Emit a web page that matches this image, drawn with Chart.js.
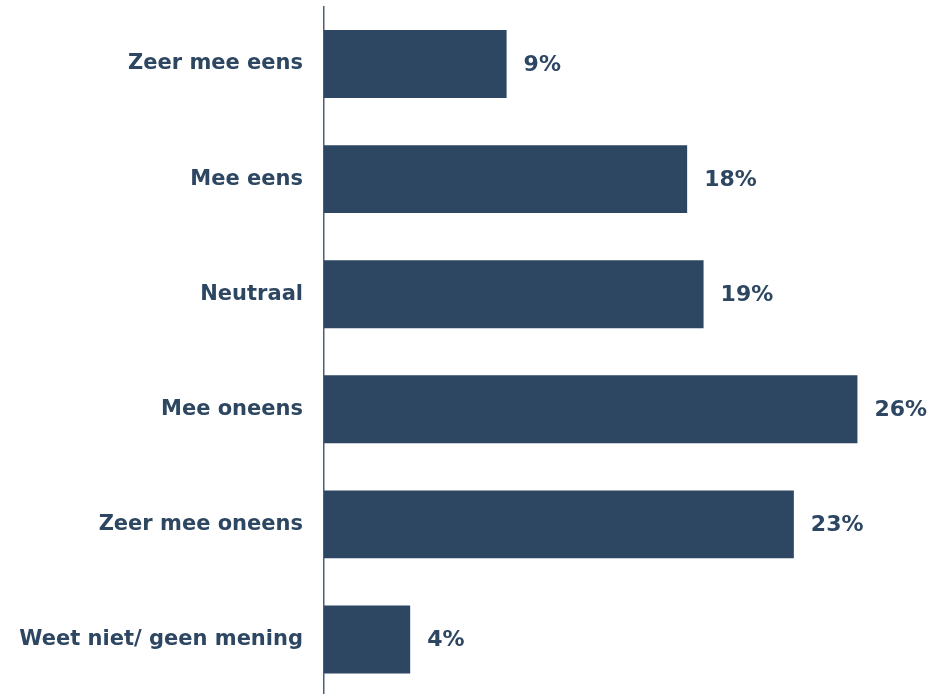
<!DOCTYPE html>
<html>
<head>
<meta charset="utf-8">
<script src="https://cdn.jsdelivr.net/npm/chart.js@4/dist/chart.umd.min.js"></script>
<style>
    html, body { margin: 0; padding: 0; background: #ffffff; overflow: hidden; }
    #wrap { width: 932px; height: 697px; position: relative; }
</style>
</head>
<body>
<div id="wrap"><canvas id="barChart"></canvas></div>
<script>
// Answer categories (top to bottom)
const categories = [
    'Zeer mee eens',
    'Mee eens',
    'Neutraal',
    'Mee oneens',
    'Zeer mee oneens',
    'Weet niet/ geen mening'
];

// Share of respondents (%)
const shares = [8.9, 17.7, 18.5, 26.0, 22.9, 4.2];

// Labels printed next to the bars
const shareLabels = ['9%', '18%', '19%', '26%', '23%', '4%'];

const barColor = '#2D4661';
const axisColor = '#4a5f78';
const fontFamily = '"DejaVu Sans", Verdana, sans-serif';

// Simple inline plugin to print the value labels right of each bar
const valueLabels = {
    id: 'valueLabels',
    afterDatasetsDraw(chart) {
        const ctx = chart.ctx;
        const meta = chart.getDatasetMeta(0);
        ctx.save();
        ctx.fillStyle = barColor;
        ctx.font = 'bold 22px ' + fontFamily;
        ctx.textAlign = 'left';
        ctx.textBaseline = 'middle';
        meta.data.forEach((bar, i) => {
            ctx.fillText(shareLabels[i], bar.x + 17, bar.y + 1);
        });
        ctx.restore();
    }
};

new Chart(document.getElementById('barChart').getContext('2d'), {
    type: 'bar',
    data: {
        labels: categories,
        datasets: [{
            data: shares,
            backgroundColor: barColor,
            borderWidth: 0,
            barPercentage: 0.59,
            categoryPercentage: 1.0
        }]
    },
    options: {
        indexAxis: 'y',
        responsive: true,
        maintainAspectRatio: false,
        animation: false,
        layout: {
            padding: { top: 6.5, right: 13, bottom: 0, left: 0 }
        },
        scales: {
            x: {
                display: false,
                min: 0,
                max: 29
            },
            y: {
                afterFit(scale) {
                    scale.width = 324;
                    scale.paddingTop = 0;
                    scale.paddingBottom = 0;
                },
                grid: { display: false, drawTicks: false },
                border: { display: true, color: axisColor, width: 1.5 },
                ticks: {
                    color: barColor,
                    padding: 21,
                    font: { family: fontFamily, size: 21, weight: 'bold' }
                }
            }
        },
        plugins: {
            legend: { display: false },
            tooltip: { enabled: false }
        }
    },
    plugins: [valueLabels]
});
</script>
</body>
</html>
